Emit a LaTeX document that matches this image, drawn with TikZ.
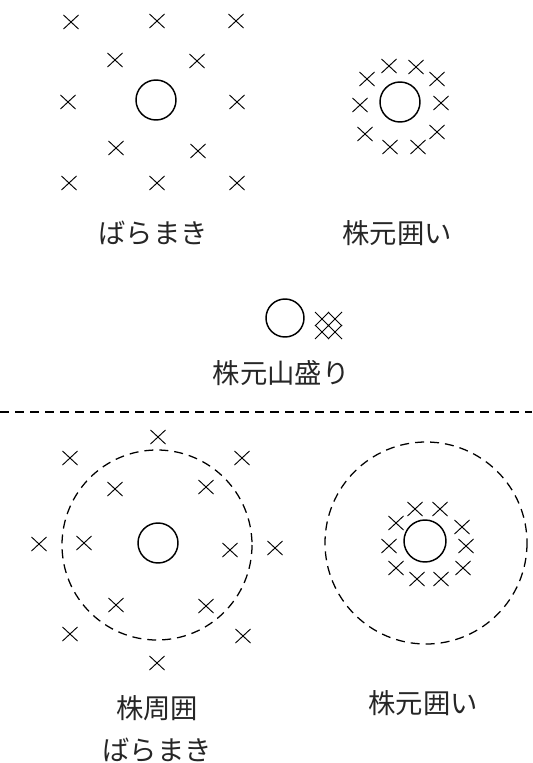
\documentclass[tikz,border=0pt]{standalone}
\usepackage{fontspec}
\setmainfont{Noto Sans CJK JP}
\begin{document}
\begin{tikzpicture}[x=0.75pt,y=-0.75pt,
  plant/.style={draw,line width=1.1pt},
  zone/.style={draw,line width=0.95pt,dash pattern=on 6.75pt off 4.5pt},
  lbl/.style={font=\fontsize{20.5}{24}\selectfont,inner sep=0pt,text=black!85},
  xmark/.pic={\draw[line width=0.7pt] (-7.5,-7) -- (7.5,7) (-7.5,7) -- (7.5,-7);},
  smallx/.pic={\draw[line width=0.6pt] (-7,-7) -- (7,7) (-7,7) -- (7,-7);}
]
\useasboundingbox (0,0) rectangle (532,763);
% top-left: scattered
\draw[plant] (156,100) circle[radius=20];
\foreach \p in {(71,22),(157,21),(236,21),(115,60),(197,61),(68,102),(237,102),(116,148),(198,151),(69,183),(157,183),(237,183)}
  \pic at \p {xmark};
\node[lbl] (l1) at (153,233) {ばらまき};
% top-right: around base
\draw[plant] (400,102) circle[radius=20];
\foreach \p in {(367,79),(389,66),(416,67),(437,79),(441,103),(437,132),(418,147),(390,147),(365,134),(360,105)}
  \pic at \p {xmark};
\node[lbl] (l2) at (397,233) {株元囲い};
% middle: heap at base
\draw[plant] (285,318) circle[radius=19];
\foreach \p in {(322,319),(335,319),(322,332),(335,332)}
  \pic at \p {smallx};
\node[lbl] (l3) at (281,373) {株元山盛り};
% separator
\draw[zone] (0,412) -- (532,412);
% bottom-left
\draw[zone] (157,545) circle[radius=95];
\draw[plant] (158,543) circle[radius=20];
\foreach \p in {(158,437),(70,458),(242,458),(115,489),(206,487),(39,544),(84,543),(230,550),(275,548),(116,605),(206,606),(70,634),(243,636),(157,663)}
  \pic at \p {xmark};
\node[lbl] (l4) at (157,708) {株周囲};
\node[lbl] (l5) at (157,750) {ばらまき};
% bottom-right
\draw[zone] (426,543) circle[radius=101];
\draw[plant] (425,541) circle[radius=21];
\foreach \p in {(415,509),(440,509),(396,523),(462,527),(389,546),(466,546),(396,568),(463,568),(417,579),(441,579)}
  \pic at \p {xmark};
\node[lbl] (l6) at (423,703) {株元囲い};
\end{tikzpicture}
\end{document}
